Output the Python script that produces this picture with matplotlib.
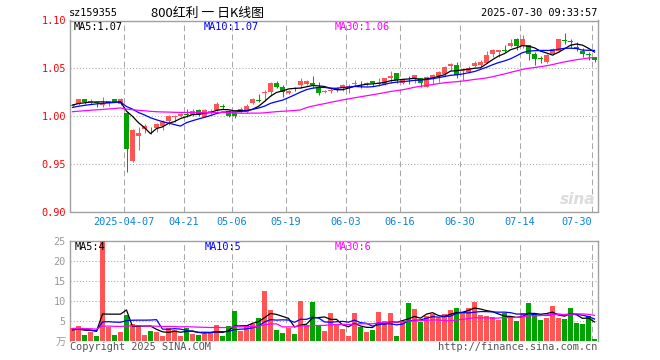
import matplotlib
matplotlib.use('Agg')
import matplotlib.pyplot as plt
import numpy as np
import pandas as pd

# ---------------- data ----------------
opens = [1.010, 1.0125, 1.0177, 1.015, 1.0143, 1.012, 1.014, 1.0177, 1.013, 1.003,
         0.953, 0.979, 0.986, 0.9865, 0.9875, 0.9896, 0.995, 0.999, 1.000, 1.002,
         1.001, 1.006, 0.9993, 1.0035, 1.006, 1.010, 1.005, 1.003, 1.0045, 1.0045,
         1.014, 1.016, 1.0237, 1.0254, 1.0348, 1.030, 1.0237, 1.029, 1.0323, 1.034,
         1.0348, 1.030, 1.0250, 1.0265, 1.0272, 1.029, 1.029, 1.0334, 1.0334, 1.034,
         1.0365, 1.0334, 1.0334, 1.0393, 1.0452, 1.0348, 1.0376, 1.0393, 1.0393, 1.0306,
         1.0383, 1.0417, 1.0435, 1.052, 1.0533, 1.0470, 1.0460, 1.0522, 1.0533, 1.0557,
         1.0644, 1.0665, 1.069, 1.0734, 1.0811, 1.0734, 1.0748, 1.0654, 1.0596, 1.0567,
         1.0644, 1.0679, 1.0787, 1.0787, 1.0724, 1.0682, 1.0640, 1.0620]
highs = [1.013, 1.018, 1.018, 1.018, 1.0145, 1.0195, 1.016, 1.018, 1.019, 1.004,
         0.986, 0.989, 0.992, 0.988, 0.9923, 0.9958, 1.001, 1.001, 1.003, 1.007,
         1.007, 1.007, 1.007, 1.007, 1.015, 1.0125, 1.006, 1.0045, 1.009, 1.013,
         1.019, 1.023, 1.027, 1.036, 1.037, 1.0327, 1.0275, 1.0306, 1.0393, 1.0375,
         1.0417, 1.0357, 1.0275, 1.030, 1.0306, 1.0334, 1.033, 1.0375, 1.0365, 1.0358,
         1.0369, 1.0400, 1.040, 1.0473, 1.0452, 1.039, 1.042, 1.0428, 1.040, 1.0418,
         1.0445, 1.0473, 1.0522, 1.0557, 1.0567, 1.0498, 1.052, 1.0571, 1.0585, 1.0682,
         1.0706, 1.069, 1.0741, 1.0804, 1.0821, 1.0846, 1.0748, 1.0672, 1.063, 1.0644,
         1.0713, 1.0804, 1.0873, 1.0804, 1.0776, 1.0713, 1.0665, 1.062]
lows = [1.009, 1.012, 1.0125, 1.013, 1.009, 1.009, 1.010, 1.015, 1.012, 0.941,
        0.952, 0.9645, 0.982, 0.981, 0.9836, 0.9854, 0.9906, 0.994, 0.9986, 0.999,
        1.000, 1.000, 0.9986, 1.002, 1.0055, 1.007, 0.9986, 0.9976, 1.003, 1.0035,
        1.0125, 1.015, 1.016, 1.021, 1.029, 1.0202, 1.0230, 1.0265, 1.029, 1.0323,
        1.029, 1.0223, 1.0237, 1.0237, 1.0250, 1.0258, 1.0237, 1.0313, 1.029, 1.031,
        1.031, 1.031, 1.0327, 1.0341, 1.0341, 1.034, 1.0334, 1.0348, 1.0306, 1.0299,
        1.0334, 1.0358, 1.0417, 1.0477, 1.0400, 1.0376, 1.0453, 1.0515, 1.0515, 1.055,
        1.062, 1.062, 1.0672, 1.0724, 1.0689, 1.0713, 1.0585, 1.0539, 1.055, 1.056,
        1.0637, 1.0672, 1.0759, 1.0713, 1.0679, 1.062, 1.0585, 1.0567]
closes = [1.012, 1.0177, 1.015, 1.0155, 1.0133, 1.0125, 1.0155, 1.015, 1.0177, 0.965,
          0.985, 0.982, 0.9896, 0.986, 0.9916, 0.994, 1.000, 0.9993, 1.002, 1.001,
          1.005, 1.001, 1.006, 1.005, 1.0125, 1.0095, 1.000, 1.000, 1.007, 1.0105,
          1.0175, 1.0155, 1.0254, 1.0348, 1.030, 1.0254, 1.026, 1.0285, 1.0365, 1.0365,
          1.0323, 1.0237, 1.0254, 1.027, 1.029, 1.0327, 1.0317, 1.0348, 1.033, 1.0341,
          1.0348, 1.0348, 1.0393, 1.0417, 1.0375, 1.0383, 1.0372, 1.0428, 1.0348, 1.0411,
          1.0428, 1.0463, 1.0508, 1.0543, 1.0428, 1.0474, 1.0498, 1.0557, 1.0567, 1.0637,
          1.0689, 1.0689, 1.0685, 1.0769, 1.0734, 1.0811, 1.0654, 1.0602, 1.0595, 1.0637,
          1.070, 1.0804, 1.0783, 1.0780, 1.070, 1.0644, 1.0637, 1.0585]
volumes = [3.2, 3.7, 1.4, 2.2, 1.2, 24.9, 3.5, 1.4, 2.2, 6.4,
           4.3, 3.9, 1.4, 2.4, 2.2, 1.2, 3.2, 2.8, 1.2, 3.2,
           1.8, 1.4, 1.8, 2.0, 3.9, 1.2, 3.7, 7.4, 2.4, 3.9,
           4.3, 5.75, 12.4, 7.7, 2.7, 1.9, 3.25, 1.7, 9.9, 3.9,
           9.7, 3.7, 2.5, 6.9, 3.9, 2.9, 1.2, 6.9, 3.5, 2.2,
           2.7, 7.2, 4.9, 6.9, 1.2, 4.9, 9.4, 7.9, 4.75, 6.3,
           6.7, 5.8, 6.7, 7.7, 8.2, 7.1, 8.2, 9.7, 6.4, 6.2,
           5.9, 5.2, 6.9, 6.2, 4.9, 6.9, 9.4, 6.7, 5.2, 5.7,
           8.7, 5.7, 5.4, 8.2, 4.4, 4.2, 6.2, 0.4]
# earlier sessions (before the visible window), used only for the moving averages
hist_close = [1.001, 1.000, 1.001, 1.000, 1.001, 0.999, 1.001, 1.001, 1.003, 1.002,
              1.000, 1.004, 1.005, 1.003, 1.002, 1.004, 1.006, 1.005, 1.004, 1.003,
              1.005, 1.006, 1.007, 1.006, 1.008, 1.010, 1.011, 1.012, 1.0125]
hist_volume = [3.5, 2.8, 3.2, 4.0, 2.6, 3.1, 2.9, 3.8, 3.3, 2.7,
               3.0, 3.6, 2.5, 3.4, 3.1, 2.8, 3.9, 3.2, 2.6, 3.0,
               3.3, 2.9, 3.5, 2.7, 3.1, 2.8, 2.6, 2.5, 2.4]
date_tick_index = [9, 19, 27, 36, 46, 55, 65, 75, 87]
date_tick_labels = ['2025-04-07', '04-21', '05-06', '05-19', '06-03', '06-16', '06-30', '07-14', '07-30']
price_ticks = [0.90, 0.95, 1.00, 1.05, 1.10]
price_tick_labels = ['0.90', '0.95', '1.00', '1.05', '1.10']
vol_ticks = [0, 5, 10, 15, 20, 25]
vol_tick_labels = ['万', '5', '10', '15', '20', '25']
code = 'sz159355'
title = '800红利 一 日K线图'
stamp = '2025-07-30 09:33:57'
ma_price_labels = ['MA5:1.07', 'MA10:1.07', 'MA30:1.06']
ma_vol_labels = ['MA5:4', 'MA10:5', 'MA30:6']

# ---------------- style ----------------
RED = '#ff5555'
GREEN = '#00a300'
MA_COLORS = ['#000000', '#0000ff', '#ff00ff']
GRID = '#a8a8a8'
SPINE = '#a0a0a0'
DATE_BLUE = '#0a84d8'
MONO = ['DejaVu Sans Mono', 'Noto Sans CJK SC']
plt.rcParams['font.family'] = MONO

W, H = 660, 360
fig = plt.figure(figsize=(W / 100, H / 100), dpi=100)


def rect(l, t, r, b):
    return [l / W, 1 - b / H, (r - l) / W, (b - t) / H]


def fx(x):
    return x / W


def fy(y):
    return 1 - y / H


o = np.array(opens); h = np.array(highs); lo = np.array(lows); c = np.array(closes)
v = np.array(volumes)
n = len(c)
x = np.arange(n)
up = c >= o
cols = np.where(up, RED, GREEN)
half = 5 / 12
xlim = (-half, (597.6 - 72.5) / 6)

ax = fig.add_axes(rect(70, 20.5, 597.6, 211.5))
vax = fig.add_axes(rect(70, 240.7, 597.6, 340.7))

for a in (ax, vax):
    a.set_xlim(*xlim)
    for s in a.spines.values():
        s.set_color(SPINE)
        s.set_linewidth(1.0)
    a.tick_params(length=0)
    for gi in date_tick_index:
        a.axvline(gi - half, color=GRID, lw=0.75, dashes=(5.5, 3.2), zorder=1)

# price grid
ax.set_ylim(0.90, 1.10)
for p in price_ticks[1:-1]:
    ax.axhline(p, color=GRID, lw=0.75, dashes=(1, 2), zorder=1)
ax.set_yticks(price_ticks)
ax.set_yticklabels(price_tick_labels)
ax.tick_params(axis='y', colors='#ff0000', pad=3, labelsize=7.4)
ax.set_xticks([gi - half for gi in date_tick_index])
ax.set_xticklabels(date_tick_labels)
ax.tick_params(axis='x', colors=DATE_BLUE, pad=4, labelsize=7.4)
ax.get_xticklabels()[-1].set_ha('right')

# candles
ax.vlines(x, lo, h, colors=cols, lw=0.75, zorder=3)
body = np.maximum(np.abs(c - o), 0.0008)
ax.bar(x, body, bottom=np.minimum(o, c), width=5 / 6, color=cols, lw=0, zorder=4)

# price moving averages
full_c = pd.Series(hist_close + closes)
for win, col in zip((5, 10, 30), MA_COLORS):
    ma = full_c.rolling(win).mean().to_numpy()[-n:]
    ax.plot(x, ma, color=col, lw=0.9, zorder=5)

# volume
vax.set_ylim(0, 25)
for p in vol_ticks[1:-1]:
    vax.axhline(p, color=GRID, lw=0.75, dashes=(1, 2), zorder=1)
vax.set_yticks(vol_ticks)
vax.set_yticklabels(vol_tick_labels)
vax.tick_params(axis='y', colors='#9a9a9a', pad=3, labelsize=7.4)
vax.set_xticks([])
vax.spines['bottom'].set_visible(False)
vax.bar(x, v, width=5 / 6, color=cols, lw=0, zorder=3)
full_v = pd.Series(hist_volume + volumes)
for win, col in zip((5, 10, 30), MA_COLORS):
    ma = full_v.rolling(win).mean().to_numpy()[-n:]
    vax.plot(x, ma, color=col, lw=0.9, zorder=5)

# texts
fs = 7.4
fig.text(fx(69), fy(13.5), code, fontsize=fs, va='center', ha='left', color='#000000')
fig.text(fx(151), fy(13), title, fontsize=9.3, va='center', ha='left', color='#000000',
         family=['Noto Sans CJK SC', 'DejaVu Sans'])
fig.text(fx(597), fy(13.5), stamp, fontsize=fs, va='center', ha='right', color='#000000')
for lab, xp, col in zip(ma_price_labels, (73.5, 204, 334.5), MA_COLORS):
    fig.text(fx(xp), fy(26.5), lab, fontsize=fs, va='center', ha='left', color=col)
for lab, xp, col in zip(ma_vol_labels, (75, 205, 335), MA_COLORS):
    fig.text(fx(xp), fy(246.5), lab, fontsize=fs, va='center', ha='left', color=col)
fig.text(fx(70), fy(346.5), 'Copyright 2025 SINA.COM', fontsize=fs, va='center', ha='left', color='#555555')
fig.text(fx(597), fy(346.5), 'http://finance.sina.com.cn', fontsize=fs, va='center', ha='right', color='#555555')
fig.text(fx(595), fy(199), 'sina', fontsize=11, va='center', ha='right', color='#dcdcdc',
         style='italic', weight='bold', family=['DejaVu Sans'])

fig.savefig('out.png', dpi=100)
